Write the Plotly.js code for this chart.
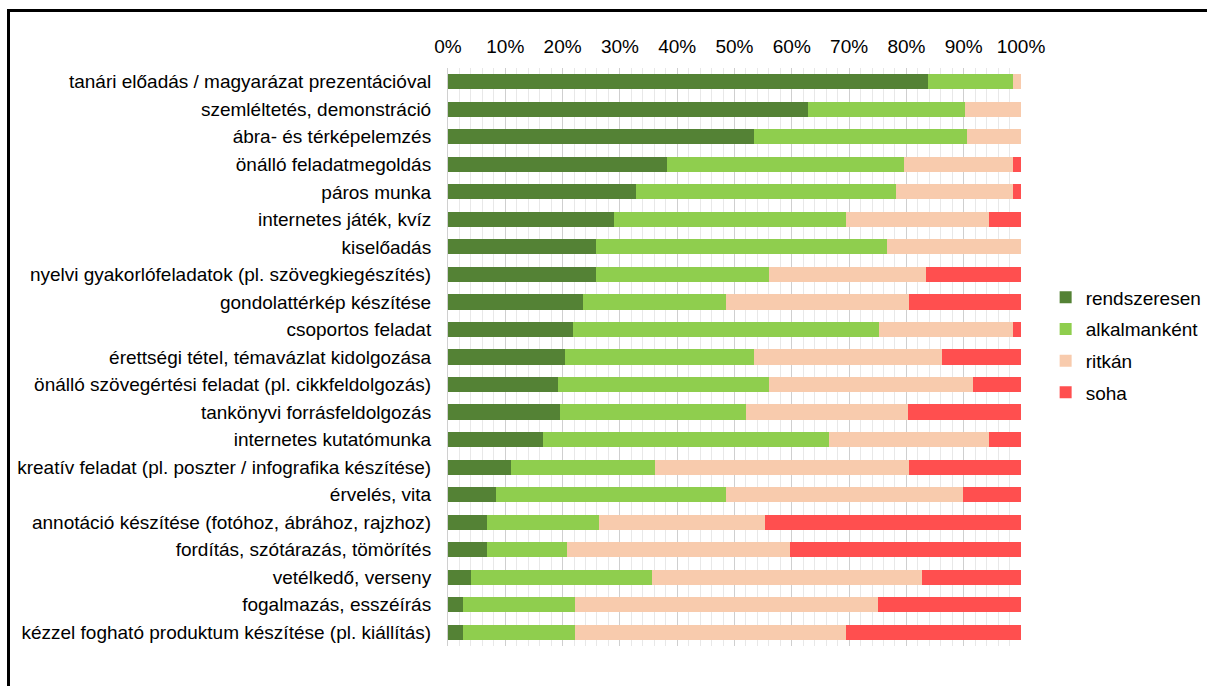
<!DOCTYPE html>
<html>
<head>
<meta charset="utf-8">
<script src="https://cdn.plot.ly/plotly-3.0.1.min.js"></script>
<style>
  html, body { margin: 0; padding: 0; background: #fff; }
  #wrap { position: relative; width: 1207px; height: 686px; overflow: hidden; }
  #frame { position: absolute; left: 7px; top: 9px; width: 1300px; height: 800px;
           border-top: 3px solid #000; border-left: 3px solid #000; pointer-events: none; }
  #chart { position: absolute; left: 0; top: 0; width: 1207px; height: 686px; }
</style>
</head>
<body>
<div id="wrap">
  <div id="chart"></div>
  <div id="frame"></div>
</div>
<script>
const categories = [
  "tanári előadás / magyarázat prezentációval",
  "szemléltetés, demonstráció",
  "ábra- és térképelemzés",
  "önálló feladatmegoldás",
  "páros munka",
  "internetes játék, kvíz",
  "kiselőadás",
  "nyelvi gyakorlófeladatok (pl. szövegkiegészítés)",
  "gondolattérkép készítése",
  "csoportos feladat",
  "érettségi tétel, témavázlat kidolgozása",
  "önálló szövegértési feladat (pl. cikkfeldolgozás)",
  "tankönyvi forrásfeldolgozás",
  "internetes kutatómunka",
  "kreatív feladat (pl. poszter / infografika készítése)",
  "érvelés, vita",
  "annotáció készítése (fotóhoz, ábrához, rajzhoz)",
  "fordítás, szótárazás, tömörítés",
  "vetélkedő, verseny",
  "fogalmazás, esszéírás",
  "kézzel fogható produktum készítése (pl. kiállítás)"
];
const seriesNames = ["rendszeresen", "alkalmanként", "ritkán", "soha"];
const rendszeresen = [83.8, 62.9, 53.4, 38.3, 32.8, 29.0, 25.9, 25.9, 23.5, 21.8, 20.4, 19.2, 19.6, 16.6, 11.0, 8.4, 6.8, 6.8, 4.1, 2.6, 2.6];
const alkalmankent = [14.8, 27.4, 37.1, 41.2, 45.3, 40.4, 50.7, 30.1, 25.1, 53.4, 33.0, 36.8, 32.4, 49.9, 25.1, 40.2, 19.6, 14.0, 31.5, 19.6, 19.6];
const ritkan       = [1.4, 9.7, 9.5, 19.1, 20.5, 25.1, 23.4, 27.5, 31.9, 23.4, 32.8, 35.7, 28.2, 28.0, 44.4, 41.3, 29.0, 38.8, 47.2, 52.8, 47.2];
const soha         = [0, 0, 0, 1.4, 1.4, 5.5, 0, 16.5, 19.5, 1.4, 13.8, 8.3, 19.8, 5.5, 19.5, 10.1, 44.6, 40.4, 17.2, 25.0, 30.6];
const xTickVals = [0, 10, 20, 30, 40, 50, 60, 70, 80, 90, 100];
const xTickText = ["0%", "10%", "20%", "30%", "40%", "50%", "60%", "70%", "80%", "90%", "100%"];

const colors = ["#548235", "#8FCE4E", "#F8CBAD", "#FF4F4F"];
const allValues = [rendszeresen, alkalmankent, ritkan, soha];

const traces = allValues.map((vals, i) => ({
  type: "bar",
  orientation: "h",
  name: seriesNames[i],
  x: vals,
  y: categories,
  marker: { color: colors[i], line: { width: 0 } },
  legendgroup: "g" + i,
  hoverinfo: "x+y+name"
}));

const layout = {
  width: 1207,
  height: 686,
  barmode: "stack",
  bargap: 0.45,
  paper_bgcolor: "#ffffff",
  plot_bgcolor: "#ffffff",
  font: { family: "Liberation Sans, Arial, sans-serif", size: 19, color: "#000" },
  margin: { l: 448, r: 186, t: 68, b: 40, pad: 0, autoexpand: false },
  showlegend: true,
  legend: {
    x: 1.043, y: 0.636, xanchor: "left", yanchor: "top",
    font: { size: 19, color: "#000" },
    traceorder: "grouped",
    tracegroupgap: 4,
    itemwidth: 30,
    bgcolor: "rgba(0,0,0,0)"
  },
  xaxis: {
    side: "top",
    range: [0, 100],
    tickvals: xTickVals,
    ticktext: xTickText,
    showgrid: true,
    gridcolor: "#cfcfcf",
    gridwidth: 1,
    zeroline: false,
    showline: false,
    ticks: "",
    ticklabelstandoff: 10,
    tickfont: { size: 19, color: "#000" },
    minor: { dtick: 2, showgrid: true, gridcolor: "#e8e8e8", gridwidth: 1 },
    fixedrange: true
  },
  yaxis: {
    autorange: "reversed",
    type: "category",
    showgrid: false,
    zeroline: false,
    showline: true,
    linecolor: "#d0d0d0",
    ticks: "",
    ticklabelstandoff: 12,
    tickfont: { size: 19, color: "#000" },
    fixedrange: true
  }
};

Plotly.newPlot("chart", traces, layout, { displayModeBar: false, staticPlot: true });
</script>
</body>
</html>
